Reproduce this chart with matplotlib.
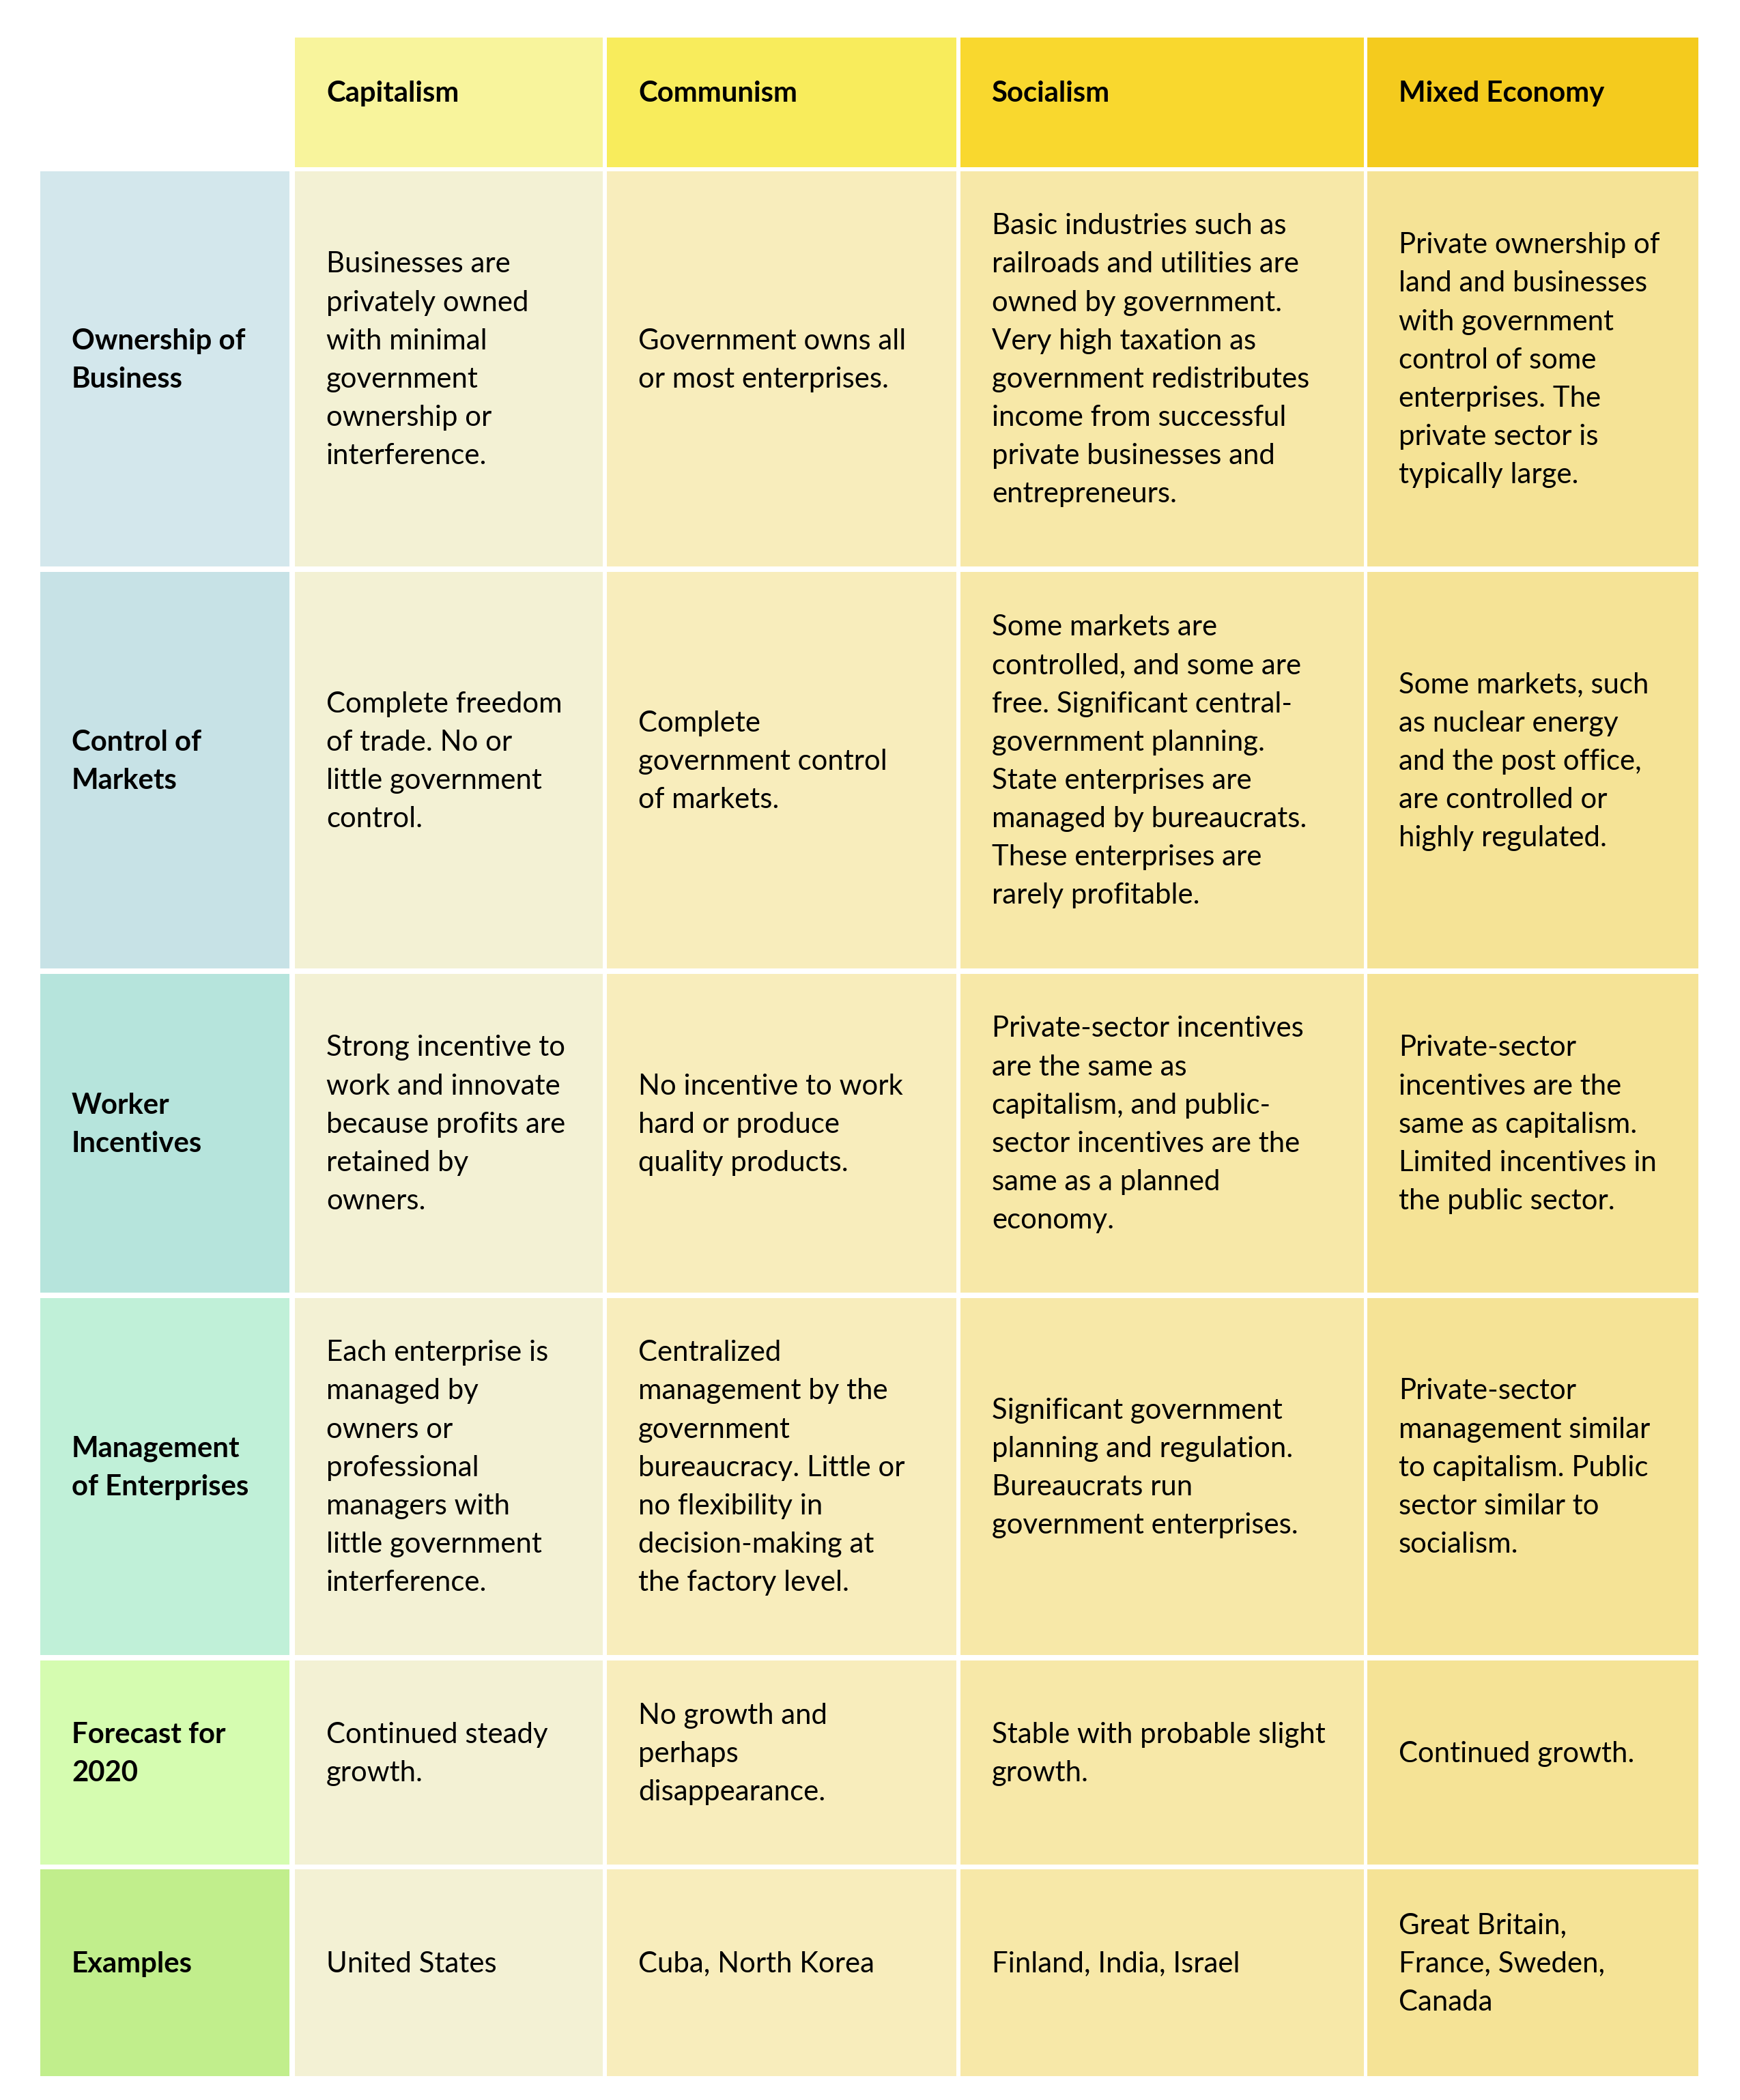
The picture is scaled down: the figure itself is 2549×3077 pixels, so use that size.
import matplotlib
matplotlib.use("Agg")
import matplotlib.pyplot as plt
from matplotlib.patches import Rectangle

plt.rcParams['font.family'] = ['Lato', 'DejaVu Sans']

# Contenuto della tabella
systems = ['Capitalism', 'Communism', 'Socialism', 'Mixed Economy']
features = ['Ownership of\nBusiness', 'Control of\nMarkets', 'Worker\nIncentives',
            'Management\nof Enterprises', 'Forecast for\n2020', 'Examples']

capitalism = [
    'Businesses are\nprivately owned\nwith minimal\ngovernment\nownership or\ninterference.',
    'Complete freedom\nof trade. No or\nlittle government\ncontrol.',
    'Strong incentive to\nwork and innovate\nbecause profits are\nretained by\nowners.',
    'Each enterprise is\nmanaged by\nowners or\nprofessional\nmanagers with\nlittle government\ninterference.',
    'Continued steady\ngrowth.',
    'United States',
]
communism = [
    'Government owns all\nor most enterprises.',
    'Complete\ngovernment control\nof markets.',
    'No incentive to work\nhard or produce\nquality products.',
    'Centralized\nmanagement by the\ngovernment\nbureaucracy. Little or\nno flexibility in\ndecision-making at\nthe factory level.',
    'No growth and\nperhaps\ndisappearance.',
    'Cuba, North Korea',
]
socialism = [
    'Basic industries such as\nrailroads and utilities are\nowned by government.\nVery high taxation as\ngovernment redistributes\nincome from successful\nprivate businesses and\nentrepreneurs.',
    'Some markets are\ncontrolled, and some are\nfree. Significant central-\ngovernment planning.\nState enterprises are\nmanaged by bureaucrats.\nThese enterprises are\nrarely profitable.',
    'Private-sector incentives\nare the same as\ncapitalism, and public-\nsector incentives are the\nsame as a planned\neconomy.',
    'Significant government\nplanning and regulation.\nBureaucrats run\ngovernment enterprises.',
    'Stable with probable slight\ngrowth.',
    'Finland, India, Israel',
]
mixed = [
    'Private ownership of\nland and businesses\nwith government\ncontrol of some\nenterprises. The\nprivate sector is\ntypically large.',
    'Some markets, such\nas nuclear energy\nand the post office,\nare controlled or\nhighly regulated.',
    'Private-sector\nincentives are the\nsame as capitalism.\nLimited incentives in\nthe public sector.',
    'Private-sector\nmanagement similar\nto capitalism. Public\nsector similar to\nsocialism.',
    'Continued growth.',
    'Great Britain,\nFrance, Sweden,\nCanada',
]
columns = [capitalism, communism, socialism, mixed]

# Colori
header_colors = ['#F8F49C', '#F8EC5C', '#F9D82E', '#F4CB1E']
body_colors = ['#F3F1D4', '#F8EDBC', '#F7E8A8', '#F5E396']
label_colors = ['#D3E7EC', '#C7E2E6', '#B6E4DC', '#C0F0D8', '#D5FCB0', '#C1EE8C']

# Griglia (pixel)
W, H = 2549, 3077
col_edges = [(59, 424), (432, 883), (889, 1401), (1407, 1998), (2003, 2488)]
row_edges = [(55, 245), (251, 830), (838, 1419), (1427, 1894), (1902, 2425),
             (2433, 2732), (2739, 3042)]
pad = 46
line_step = 56.1
fs = 30.2
em = fs * 100 / 72

fig = plt.figure(figsize=(W / 100, H / 100), dpi=100)
ax = fig.add_axes([0, 0, 1, 1])
ax.set_xlim(0, W)
ax.set_ylim(H, 0)
ax.axis('off')


def cell(x0, x1, y0, y1, color, text, bold=False):
    ax.add_patch(Rectangle((x0, y0), x1 - x0, y1 - y0, facecolor=color, edgecolor='none'))
    lines = text.split('\n')
    mid = (y0 + y1) / 2 - 13
    n = len(lines)
    for i, ln in enumerate(lines):
        yc = mid + (i - (n - 1) / 2) * line_step
        ax.text(x0 + pad, yc + 0.29 * em, ln, fontsize=fs, va='baseline', ha='left',
                fontweight='bold' if bold else 'normal', color='black')


# riga di intestazione
for j, name in enumerate(systems):
    x0, x1 = col_edges[j + 1]
    y0, y1 = row_edges[0]
    cell(x0, x1, y0, y1, header_colors[j], name, bold=True)

# righe
for i, feat in enumerate(features):
    y0, y1 = row_edges[i + 1]
    x0, x1 = col_edges[0]
    cell(x0, x1, y0, y1, label_colors[i], feat, bold=True)
    for j, col in enumerate(columns):
        x0, x1 = col_edges[j + 1]
        cell(x0, x1, y0, y1, body_colors[j], col[i])

fig.savefig('out.png', dpi=100, facecolor='white')
